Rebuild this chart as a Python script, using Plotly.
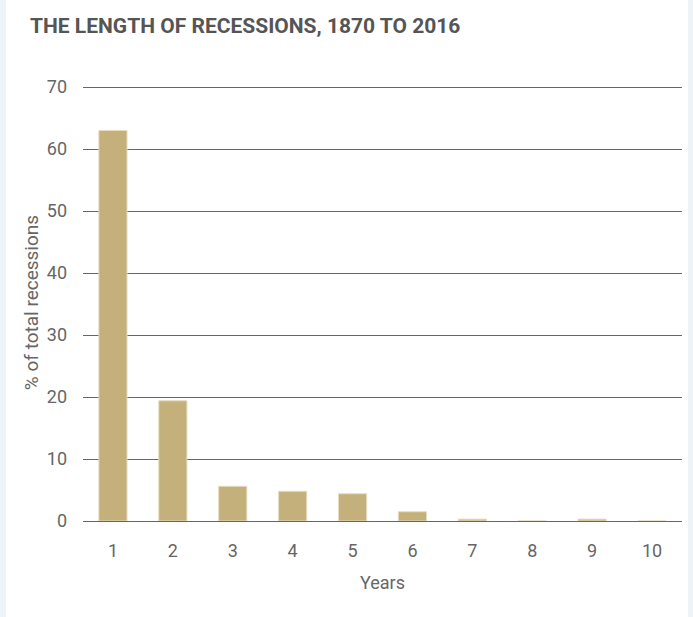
import plotly.graph_objects as go

years = [1, 2, 3, 4, 5, 6, 7, 8, 9, 10]
share = [63.0, 19.4, 5.6, 4.8, 4.4, 1.5, 0.3, 0.0, 0.3, 0.0]
y_ticks = [0, 10, 20, 30, 40, 50, 60, 70]

fig = go.Figure()
fig.add_trace(go.Bar(
    x=years, y=share,
    width=0.47,
    marker=dict(color="#c4b07b", line=dict(color="#e6dcc0", width=1)),
    hoverinfo="x+y",
))

fig.update_layout(
    width=693, height=617,
    margin=dict(l=83, r=11, t=84, b=96, autoexpand=False),
    paper_bgcolor="#eef3f7",
    plot_bgcolor="white",
    showlegend=False,
    font=dict(family="Roboto, 'Open Sans', sans-serif", color="#666666", size=18, weight=400),
    title=dict(
        text="<b>THE LENGTH OF RECESSIONS, 1870 TO 2016</b>",
        font=dict(family="Roboto, 'Liberation Sans', sans-serif",
                  size=21, color="#555555", weight=700),
        x=30 / 693, xanchor="left", xref="container",
        y=1 - 26 / 617, yanchor="middle", yref="container",
    ),
    shapes=[dict(type="rect", xref="paper", yref="paper",
                 x0=-77 / 599, x1=(688 - 83) / 599,
                 y0=-96 / 437, y1=(533 - 2) / 437,
                 fillcolor="white", line=dict(width=0), layer="below")],
    xaxis=dict(
        tickmode="array", tickvals=years, ticktext=[str(v) for v in years],
        range=[0.5, 10.5], showgrid=False, zeroline=False, showline=False,
        ticks="", ticklabelstandoff=17, automargin=False,
        tickfont=dict(size=18, weight=400, color="#666666"),
        title=dict(text="Years", standoff=16, font=dict(size=18, weight=400, color="#666666")),
    ),
    yaxis=dict(
        tickmode="array", tickvals=y_ticks, range=[0, 70.5],
        showgrid=True, gridcolor="#666666", gridwidth=1,
        zeroline=True, zerolinecolor="#666666", zerolinewidth=1,
        showline=False, ticks="", ticklabelstandoff=15, automargin=False,
        tickfont=dict(size=18, weight=400, color="#666666"),
        title=dict(text="% of total recessions", standoff=3,
                   font=dict(size=19, weight=400, color="#666666")),
    ),
    bargap=0.5,
)

fig.write_html(
    "out.html",
    config={"displayModeBar": False},
    post_script="document.body.style.margin='0';document.body.style.padding='0';document.body.style.overflow='hidden';",
)
